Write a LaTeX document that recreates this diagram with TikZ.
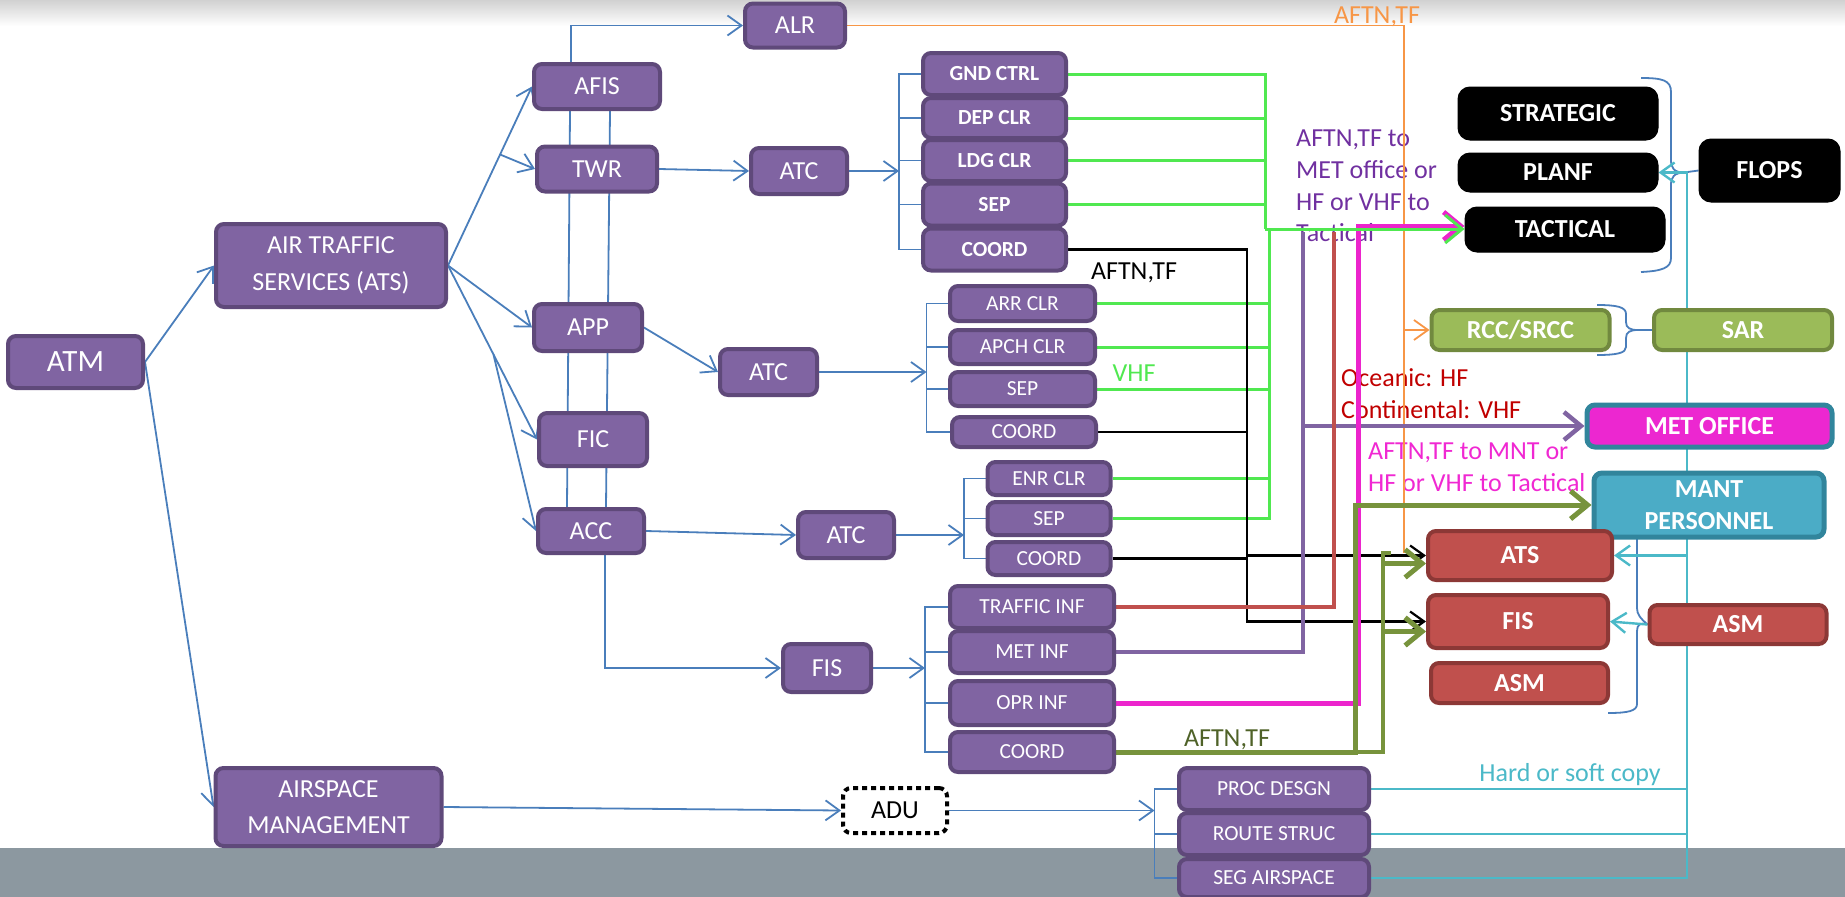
\documentclass[tikz,border=0pt]{standalone}
\usepackage{fontspec}
\setmainfont{Carlito}
\usetikzlibrary{arrows.meta,calc}
\pgfdeclarelayer{back}
\pgfdeclarelayer{edges}
\pgfsetlayers{back,edges,main}
\definecolor{pfill}{RGB}{128,100,162}
\definecolor{pdraw}{RGB}{95,73,122}
\definecolor{bline}{RGB}{74,126,187}
\definecolor{gline}{RGB}{80,232,80}
\definecolor{oline}{RGB}{247,150,70}
\definecolor{rline}{RGB}{192,80,77}
\definecolor{mline}{RGB}{236,36,204}
\definecolor{olline}{RGB}{119,147,60}
\definecolor{cline}{RGB}{75,185,200}
\definecolor{rdraw}{RGB}{140,56,54}
\definecolor{gfill}{RGB}{155,187,89}
\definecolor{gdraw}{RGB}{113,137,63}
\definecolor{metfill}{RGB}{236,39,208}
\definecolor{tealb}{RGB}{49,133,156}
\definecolor{mantfill}{RGB}{75,172,198}
\definecolor{vtxt}{RGB}{112,48,160}
\definecolor{octxt}{RGB}{192,0,0}
\definecolor{mtxt}{RGB}{240,40,210}
\definecolor{oltxt}{RGB}{79,98,40}
\definecolor{band}{RGB}{140,152,160}
\newcommand\fsA{\fontsize{26}{36.7}\selectfont}
\newcommand\fsB{\fontsize{21.5}{26}\selectfont}
\newcommand\fsM{\fontsize{31}{36}\selectfont}
\newcommand\fsL{\fontsize{26}{31.7}\selectfont}
\newcommand\fsK{\fontsize{26}{31.7}\selectfont}
\tikzset{
 sz/.style 2 args={minimum width=#1pt, minimum height=#2pt},
 box/.style={rounded corners=8pt, line width=4pt, inner sep=0pt, text=white, align=center, font=\fsA},
 pbox/.style={box, fill=pfill, draw=pdraw},
 sbox/.style={pbox, font=\fsB},
 sboxb/.style={pbox, font=\fsB\bfseries},
 rbox/.style={box, fill=rline, draw=rdraw, font=\fsA\bfseries},
 kbox/.style={box, fill=black, draw=black, rounded corners=12pt, line width=1pt, font=\fsA\bfseries},
 gbox/.style={box, fill=gfill, draw=gdraw, font=\fsA\bfseries},
 arr/.style={-{Straight Barb[length=14pt,width=20pt]}},
 arrT/.style={-{Straight Barb[length=17pt,width=28pt]}},
 bl/.style={draw=bline, line width=1.8pt},
 gr/.style={draw=gline, line width=3pt},
 bk/.style={draw=black, line width=2.2pt},
 pu/.style={draw=pfill, line width=4.5pt},
 rd/.style={draw=rline, line width=4pt},
 mg/.style={draw=mline, line width=5pt},
 ol/.style={draw=olline, line width=5pt},
 olt/.style={draw=olline, line width=3.5pt},
 org/.style={draw=oline, line width=1.8pt},
 cy/.style={draw=cline, line width=2.4pt},
 lbl/.style={inner sep=0pt, align=left}
}
\begin{document}
\begin{tikzpicture}[x=1pt,y=-1pt]
\useasboundingbox (0,0) rectangle (1845,897);
% ---------- nodes ----------
\node[pbox, sz={135}{52}, font=\fsM] (ATM) at (75.5,362) {ATM};
\node[pbox, sz={230}{83}] (ATS) at (331,265.5) {AIR TRAFFIC\\SERVICES (ATS)};
\node[pbox, sz={226}{78}] (AM) at (328.5,807) {AIRSPACE\\MANAGEMENT};
\node[pbox, sz={126}{45}] (AFIS) at (597,86.5) {AFIS};
\node[pbox, sz={120}{45}] (TWR) at (597,169) {TWR};
\node[pbox, sz={108}{47}] (APP) at (588,327.5) {APP};
\node[pbox, sz={108}{53}] (FIC) at (593,439.5) {FIC};
\node[pbox, sz={106}{44}] (ACC) at (591,531) {ACC};
\node[pbox, sz={100}{44}] (ALR) at (795,25.5) {ALR};
\node[pbox, sz={96}{46}] (ATC1) at (799,171) {ATC};
\node[pbox, sz={97}{46}] (ATC2) at (768.5,372) {ATC};
\node[pbox, sz={96}{46}] (ATC3) at (846,535) {ATC};
\node[pbox, sz={88}{48}] (FIS) at (827,668) {FIS};
\node[sboxb, sz={143}{42}] (GND) at (994.5,74) {GND CTRL};
\node[sboxb, sz={143}{40}] (DEP) at (994.5,118) {DEP CLR};
\node[sboxb, sz={143}{41}] (LDG) at (994.5,160.5) {LDG CLR};
\node[sboxb, sz={143}{42}] (SEP1) at (994.5,204.5) {SEP};
\node[sboxb, sz={143}{42}] (COORD1) at (994.5,249.5) {COORD};
\node[sbox, sz={145}{35}] (ARR) at (1022.5,303.5) {ARR CLR};
\node[sbox, sz={145}{34}] (APCH) at (1022.5,347) {APCH CLR};
\node[sbox, sz={145}{34}] (SEP2) at (1022.5,389) {SEP};
\node[sbox, sz={144}{30}] (COORD2) at (1024,432) {COORD};
\node[sbox, sz={123}{33}] (ENR) at (1049,478.5) {ENR CLR};
\node[sbox, sz={123}{33}] (SEP3) at (1049,518.5) {SEP};
\node[sbox, sz={123}{33}] (COORD3) at (1049,558.5) {COORD};
\node[sbox, sz={164}{42}] (TRAF) at (1032,607) {TRAFFIC INF};
\node[sbox, sz={164}{42}] (METINF) at (1032,652) {MET INF};
\node[sbox, sz={164}{44}] (OPR) at (1032,703) {OPR INF};
\node[sbox, sz={164}{40}] (COORD4) at (1032,752) {COORD};
\node[box, sz={104}{45}, fill=white, draw=black, text=black, dash pattern=on 5pt off 4pt] (ADU) at (895,810.5) {ADU};
\node[sbox, sz={190}{42}] (PROC) at (1274,789) {PROC DESGN};
\node[sbox, sz={190}{42}] (ROUTE) at (1274,834) {ROUTE STRUC};
\node[sbox, sz={190}{38}] (SEG) at (1274,878) {SEG AIRSPACE};
\node[kbox, sz={200}{53}] (STRAT) at (1558,113.5) {STRATEGIC};
\node[kbox, sz={200}{39}] (PLANF) at (1558,172.5) {PLANF};
\node[kbox, sz={200}{45}] (TACT) at (1565,229.5) {TACTICAL};
\node[kbox, sz={141}{63}] (FLOPS) at (1769.5,170.5) {FLOPS};
\node[gbox, sz={178}{40}] (RCC) at (1520.5,330) {RCC/SRCC};
\node[gbox, sz={178}{40}] (SAR) at (1743,330) {SAR};
\node[box, sz={245}{42}, fill=metfill, draw=tealb, line width=5pt, font=\fsA\bfseries] (METO) at (1709.5,426) {MET OFFICE};
\node[box, sz={230}{64}, fill=mantfill, draw=tealb, line width=5pt, font=\fsK\bfseries] (MANT) at (1709,505) {MANT\\PERSONNEL};
\node[rbox, sz={184}{49}] (ATSr) at (1520,555.5) {ATS};
\node[rbox, sz={180}{53}] (FISr) at (1518,621.5) {FIS};
\node[rbox, sz={177}{40}] (ASMl) at (1519.5,683) {ASM};
\node[rbox, sz={177}{39}] (ASMr) at (1738,624.5) {ASM};
% ---------- background and labels ----------
\begin{pgfonlayer}{back}
\shade[top color=black!18, bottom color=white] (0,0) rectangle (1845,26);
\fill[band] (0,848) rectangle (1845,897);
\node[lbl, font=\fsA] (lblK) at (1134,273) {AFTN,TF};
\node[lbl, font=\fsL, text=gline] (lblV) at (1134,373) {VHF};
\node[lbl, font=\fsL, text=oline] (lblO) at (1377,17) {AFTN,TF};
\node[lbl, font=\fsL, text=vtxt, anchor=west] (lblP) at (1296,186) {AFTN,TF to\\MET office or\\HF or VHF to\\Tactical};
\node[lbl, font=\fsK, text=octxt, anchor=west] (lblOc) at (1341,394) {Oceanic: HF\\Continental: VHF};
\node[lbl, font=\fsK, text=mtxt, anchor=west] (lblM) at (1368,467) {AFTN,TF to MNT or\\HF or VHF to Tactical};
\node[lbl, font=\fsA, text=oltxt] (lblOl) at (1227,740) {AFTN,TF};
\node[lbl, font=\fsL, text=cline] (lblH) at (1570,775) {Hard or soft copy};
\end{pgfonlayer}
% ---------- connectors ----------
\begin{pgfonlayer}{edges}
% blue tree
\draw[bl,arr] (ATM.east) -- (ATS.west);
\draw[bl,arr] (ATM.east) -- (AM.west);
\draw[bl,arr] (ATS.east) -- (AFIS.west);
\draw[bl,arr] ($(ATS.east)!0.62!(AFIS.west)$) -- (TWR.west);
\draw[bl,arr] (ATS.east) -- (APP.west);
\draw[bl,arr] (ATS.east) -- (FIC.west);
\draw[bl,arr] ($(ATS.east)!0.51!(FIC.west)$) -- (ACC.west);
\draw[bl] ([xshift=-27pt]AFIS.south) -- ([xshift=-24pt]ACC.north);
\draw[bl] ([xshift=13pt]AFIS.south) -- ([xshift=15pt]ACC.north);
\draw[bl,arr] ([xshift=-26pt]AFIS.north) |- (ALR.west);
\draw[bl,arr] (TWR.east) -- (ATC1.west);
\draw[bl,arr] (APP.east) -- (ATC2.west);
\draw[bl,arr] (ACC.east) -- (ATC3.west);
\draw[bl,arr] ([xshift=14pt]ACC.south) |- (FIS.west);
\draw[bl,arr] (AM.east) -- (ADU.west);
% brackets
\coordinate (b1) at (899,171);
\draw[bl,arr] (ATC1.east) -- (b1);
\draw[bl] (GND.west) -- (GND.west -| b1) -- (COORD1.west -| b1) -- (COORD1.west);
\foreach \n in {DEP,LDG,SEP1} \draw[bl] (\n.west) -- (\n.west -| b1);
\coordinate (b2) at (926.5,372);
\draw[bl,arr] (ATC2.east) -- (b2);
\draw[bl] (ARR.west) -- (ARR.west -| b2) -- (COORD2.west -| b2) -- (COORD2.west);
\foreach \n in {APCH,SEP2} \draw[bl] (\n.west) -- (\n.west -| b2);
\coordinate (b3) at (964,535);
\draw[bl,arr] (ATC3.east) -- (b3);
\draw[bl] (ENR.west) -- (ENR.west -| b3) -- (COORD3.west -| b3) -- (COORD3.west);
\draw[bl] (SEP3.west) -- (SEP3.west -| b3);
\coordinate (b4) at (925,668);
\draw[bl,arr] (FIS.east) -- (b4);
\draw[bl] (TRAF.west) -- (TRAF.west -| b4) -- (COORD4.west -| b4) -- (COORD4.west);
\foreach \n in {METINF,OPR} \draw[bl] (\n.west) -- (\n.west -| b4);
\coordinate (b5) at (1154.5,810.5);
\draw[bl,arr] (ADU.east) -- (b5);
\draw[bl] (PROC.west) -- (PROC.west -| b5) -- (SEG.west -| b5) -- (SEG.west);
\draw[bl] (ROUTE.west) -- (ROUTE.west -| b5);
% braces
\draw[bl] (1641,78) .. controls (1662,78) and (1671,80) .. (1671,92) -- (1671,160) .. controls (1671,168) and (1674,172.5) .. (1684,172.5) -- (FLOPS.west);
\draw[bl] (1684,172.5) .. controls (1674,173) and (1671,177) .. (1671,185) -- (1671,258) .. controls (1671,268) and (1662,271) .. (1641,272);
\draw[bl] (1597,305) .. controls (1617,305) and (1626,307) .. (1626,314) -- (1626,322) .. controls (1626,328) and (1630,330) .. (1638,330) -- (SAR.west);
\draw[bl] (1638,330) .. controls (1630,330) and (1626,332) .. (1626,338) -- (1626,347) .. controls (1626,353) and (1617,355) .. (1597,355);
\draw[bl] (1637,538) -- (1637,608) .. controls (1637,614) and (1640,618) .. (ASMr.west);
\draw[bl] (ASMr.west) .. controls (1640,622) and (1637,625) .. (1637,631) -- (1637,704) .. controls (1637,711) and (1628,713) .. (1608,713);
% orange
\coordinate (orv) at (1404,553);
\draw[org] (ALR.east) -| (orv);
\draw[org,arr] (RCC.west -| orv) -- (RCC.west);
% green
\coordinate (g1) at (1265,229);
\coordinate (g2) at (1269,229);
\draw[gr] (GND.east) -| (g1);
\foreach \n in {DEP,LDG,SEP1} \draw[gr] (\n.east) -- (\n.east -| g1);
\draw[gr] (SEP3.east) -| (g2);
\foreach \n in {ARR,APCH,SEP2,ENR} \draw[gr] (\n.east) -- (\n.east -| g2);
% black
\coordinate (kv) at (1247,250);
\draw[bk,arr] (COORD1.east) -- (COORD1.east -| kv) -- (kv |- FISr.west) -- (FISr.west);
\draw[bk] (COORD2.east) -- (COORD2.east -| kv);
\draw[bk] (COORD3.east) -- (COORD3.east -| kv);
\draw[bk,arr] (kv |- ATSr.west) -- (ATSr.west);
% purple, red, magenta
\coordinate (pv) at (1303,232);
\draw[pu] (METINF.east) -| (pv);
\draw[pu,arrT] (pv |- METO.west) -- (METO.west);
\coordinate (rv) at (1334,232);
\draw[rd] (TRAF.east) -| (rv);
\coordinate (mv) at (1358,226);
\draw[mg,arrT] (OPR.east) -| (mv) -- (mv -| TACT.west);
\draw[gr,arrT] (g1) -- (g1 -| TACT.west);
% olive
\coordinate (ov) at (1355,505);
\draw[ol,arrT] (COORD4.east) -| (ov) -- (MANT.west);
\coordinate (ov2) at (1383,553);
\draw[olt] (COORD4.east) -| (ov2) -- ++(8,0);
\coordinate (oa) at ($(ATSr.west)+(0,8)$);
\coordinate (of) at ($(FISr.west)+(0,10)$);
\draw[ol,arrT] (oa -| ov2) -- (oa);
\draw[ol,arrT] (of -| ov2) -- (of);
% cyan
\coordinate (cv) at (1687,500);
\draw[cy,arr] (SEG.east) -- (SEG.east -| cv) -- (cv |- PLANF.east) -- (PLANF.east);
\draw[cy] (PROC.east) -- (PROC.east -| cv);
\draw[cy] (ROUTE.east) -- (ROUTE.east -| cv);
\draw[cy,arr] (ATSr.east -| cv) -- (ATSr.east);
\draw[cy,arr] (ASMr.west) -- (FISr.east);
\end{pgfonlayer}
\end{tikzpicture}
\end{document}
